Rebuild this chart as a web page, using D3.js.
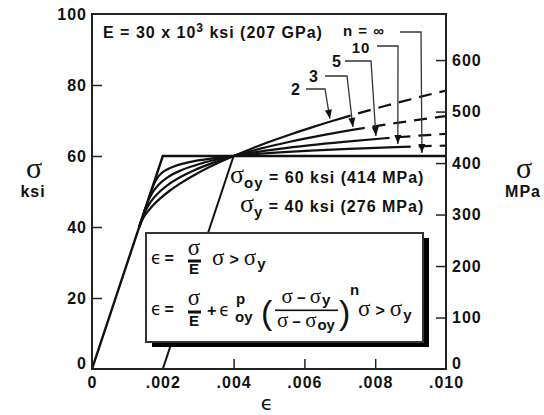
<!DOCTYPE html>
<html><head><meta charset="utf-8">
<script src="https://cdn.jsdelivr.net/npm/d3@7"></script>
<style>
body{margin:0;background:#fff}
svg text{font-family:"Liberation Sans",Arial,Helvetica,sans-serif;font-weight:bold;fill:#111}
.serif{font-family:"Liberation Serif","Times New Roman",serif;font-weight:normal}
.eps{font-family:"DejaVu Sans",sans-serif;font-weight:bold}
</style></head><body>
<svg id="c" width="544" height="415"></svg>
<script>
// ---------- data ----------
const strainTicks=[0,0.002,0.004,0.006,0.008,0.010];
const strainTickLabels=["0",".002",".004",".006",".008",".010"];
const ksiTicks=[0,20,40,60,80,100];
const mpaTicks=[0,100,200,300,400,500,600];
const ksiToMpa=6.895;
const nLabels=["2","3","5","10","n = \u221E"];
// [strain, stress ksi]
const curveN2=[[0.001333,40],[0.00142,42],[0.001547,44],[0.001713,46],[0.00192,48],[0.002167,50],[0.002453,52],[0.002958,55],[0.003553,58],[0.004,60],[0.004487,62],[0.005013,64],[0.00558,66],[0.006187,68],[0.006833,70],[0.00752,72],[0.008247,74],[0.009013,76],[0.00982,78],[0.010238,79]];
const curveN3=[[0.001333,40],[0.001402,42],[0.001483,44],[0.001587,46],[0.001728,48],[0.001917,50],[0.002165,52],[0.002486,54],[0.002891,56],[0.003391,58],[0.004,60],[0.004729,62],[0.005589,64],[0.006594,66],[0.007755,68],[0.009083,70],[0.009815,71],[0.010592,72]];
const curveN5=[[0.001333,40],[0.001468,44],[0.001538,46],[0.00162,48],[0.001729,50],[0.001889,52],[0.002136,54],[0.002522,56],[0.003114,58],[0.003515,59],[0.004,60],[0.004586,61],[0.005288,62],[0.006123,63],[0.00711,64],[0.00827,65],[0.009626,66],[0.011201,67]];
const curveN10=[[0.001333,40],[0.0016,48],[0.001669,50],[0.001745,52],[0.001857,54],[0.001946,55],[0.002082,56],[0.002294,57],[0.00263,58],[0.003164,59],[0.004,60],[0.004577,60.5],[0.005291,61],[0.006172,61.5],[0.007254,62],[0.008578,62.5],[0.010191,63]];
const curveInf=[[0,0],[0.002,60],[0.010,60]];
const offsetLine=[[0.002,0],[0.004,60]];
const solidUntil=[0.0073,0.0077,0.0084,0.0090,0.0100];
const arrowStrain=[0.00672,0.00737,0.00802,0.00864,0.00932];

// ---------- layout ----------
const L=92,R=446,T=14,B=369;
const svg=d3.select("#c");
const x=d3.scaleLinear().domain([0,0.010]).range([L,R]);
const y=d3.scaleLinear().domain([0,100]).range([B,T]);
const yR=d3.scaleLinear().domain([0,100*ksiToMpa]).range([B,T]);
const ink="#111";

const defs=svg.append("defs");
defs.append("clipPath").attr("id","plot").append("rect").attr("x",L).attr("y",T).attr("width",R-L).attr("height",B-T);

const line=d3.line().x(d=>x(d[0])).y(d=>y(d[1])).curve(d3.curveMonotoneX);
const lin=d3.line().x(d=>x(d[0])).y(d=>y(d[1]));

const curves=[curveN2,curveN3,curveN5,curveN10];
const gC=svg.append("g").attr("clip-path","url(#plot)");

gC.append("path").attr("d",lin(curveInf)).attr("fill","none").attr("stroke",ink).attr("stroke-width",2.4);
gC.append("path").attr("d",lin(offsetLine)).attr("fill","none").attr("stroke",ink).attr("stroke-width",2);

const P=21, dashLen=13;
curves.forEach((c,i)=>{
  const xb=x(solidUntil[i]);
  defs.append("clipPath").attr("id","s"+i).append("rect").attr("x",L).attr("y",T).attr("width",xb-L).attr("height",B-T);
  defs.append("clipPath").attr("id","d"+i).append("rect").attr("x",xb).attr("y",T).attr("width",R-xb).attr("height",B-T);
  gC.append("path").attr("d",line(c)).attr("fill","none").attr("stroke",ink).attr("stroke-width",2.2).attr("clip-path","url(#s"+i+")");
  const p=gC.append("path").attr("d",line(c)).attr("fill","none").attr("stroke",ink).attr("stroke-width",2.2).attr("clip-path","url(#d"+i+")");
  const node=p.node(),tot=node.getTotalLength();
  let lo=0,hi=tot;
  for(let k=0;k<40;k++){const m=(lo+hi)/2; if(node.getPointAtLength(m).x<xb) lo=m; else hi=m;}
  const off=((dashLen-lo)%P+P)%P;
  p.attr("stroke-dasharray",dashLen+" "+(P-dashLen)).attr("stroke-dashoffset",off);
});

// frame
svg.append("rect").attr("x",L).attr("y",T).attr("width",R-L).attr("height",B-T).attr("fill","none").attr("stroke","#222").attr("stroke-width",2);

// axes
function styleAxis(g){
  g.select(".domain").remove();
  g.selectAll(".tick line").attr("stroke","#222").attr("stroke-width",1.5);
  g.selectAll("text").attr("font-family",null).attr("fill",ink).style("font-size","16px").style("letter-spacing","1px");
}
svg.append("g").attr("transform",`translate(${L},0)`)
  .call(d3.axisLeft(y).tickValues(ksiTicks).tickSize(-10).tickPadding(5).tickFormat(d3.format("d")))
  .call(styleAxis)
  .call(g=>g.selectAll(".tick").filter(d=>d===0||d===100).select("line").remove())
  .call(g=>g.selectAll(".tick").filter(d=>d===0).select("text").attr("dy","-0.02em"));
svg.append("g").attr("transform",`translate(${R},0)`)
  .call(d3.axisRight(yR).tickValues(mpaTicks).tickSize(-10).tickPadding(6).tickFormat(d3.format("d")))
  .call(styleAxis)
  .call(g=>g.selectAll(".tick").filter(d=>d===0).select("line").remove())
  .call(g=>g.selectAll(".tick").filter(d=>d===0).select("text").attr("dy","-0.02em"));
svg.append("g").attr("transform",`translate(0,${B})`)
  .call(d3.axisBottom(x).tickValues(strainTicks).tickSize(-10).tickPadding(8).tickFormat((d,i)=>strainTickLabels[i]))
  .call(styleAxis)
  .call(g=>g.selectAll(".tick").filter(d=>d===0||d===0.002||d===0.010).select("line").remove());

// axis titles
svg.append("text").attr("class","eps").attr("x",267).attr("y",410).attr("text-anchor","middle").style("font-size","20px").style("font-weight","normal").text("\u03F5");
svg.append("text").attr("class","serif").attr("x",34).attr("y",178).attr("text-anchor","middle").style("font-size","30px").text("\u03C3");
svg.append("text").attr("x",33).attr("y",197).attr("text-anchor","middle").style("font-size","16px").style("letter-spacing","1px").text("ksi");
svg.append("text").attr("class","serif").attr("x",524).attr("y",178).attr("text-anchor","middle").style("font-size","30px").text("\u03C3");
svg.append("text").attr("x",523).attr("y",197).attr("text-anchor","middle").style("font-size","16px").style("letter-spacing","1px").text("MPa");

// annotations
svg.append("text").attr("x",103).attr("y",38).style("font-size","16px").style("letter-spacing","1px")
  .html('E = 30 x 10<tspan dy="-6" style="font-size:12px">3</tspan><tspan dy="6"> ksi (207 GPa)</tspan>');
svg.append("text").attr("x",230).attr("y",183).style("font-size","16px").style("letter-spacing","1px")
  .html('<tspan class="serif" style="font-size:26px;letter-spacing:0">\u03C3</tspan><tspan dy="5" style="font-size:15px">oy</tspan><tspan dy="-5"> = 60 ksi (414 MPa)</tspan>');
svg.append("text").attr("x",240).attr("y",212).style("font-size","16px").style("letter-spacing","1px")
  .html('<tspan class="serif" style="font-size:26px;letter-spacing:0">\u03C3</tspan><tspan dy="5" style="font-size:15px">y</tspan><tspan dy="-5"> = 40 ksi (276 MPa)</tspan>');

// n labels with leader arrows
const labelPos=[[296,89,306,325],[314,76,325,347],[337,61,345,371],[361,47,377,398],[364,30,400,421]];
const labelY=[89,76,61,46,32];
const allCurves=[curveN2,curveN3,curveN5,curveN10,curveInf];
function stressAt(c,e){
  for(let k=1;k<c.length;k++){ if(c[k][0]>=e){const a=c[k-1],b=c[k];return a[1]+(b[1]-a[1])*(e-a[0])/(b[0]-a[0]);} }
  return c[c.length-1][1];
}
nLabels.forEach((lab,i)=>{
  const [tx,ty,x0,x1]=labelPos[i];
  svg.append("text").attr("x",tx).attr("y",ty).attr("text-anchor","middle").attr("dominant-baseline","central").style("font-size",i>=3?"15px":"16px").style("letter-spacing","1px").text(lab);
  const ly=labelY[i];
  const tipX=x(arrowStrain[i]), tipY=y(stressAt(allCurves[i],arrowStrain[i]))-3;
  svg.append("path").attr("d",`M${x0},${ly}H${x1}L${tipX},${tipY}`).attr("fill","none").attr("stroke","#333").attr("stroke-width",1.3);
  const ang=Math.atan2(tipY-ly,tipX-x1), hl=9, hw=3.5;
  const bx=tipX-hl*Math.cos(ang), by=tipY-hl*Math.sin(ang);
  const px=-Math.sin(ang)*hw, py=Math.cos(ang)*hw;
  svg.append("path").attr("d",`M${tipX},${tipY}L${bx+px},${by+py}L${bx-px},${by-py}Z`).attr("fill",ink);
});

// formula box
const F=svg.append("g");
F.append("rect").attr("x",152).attr("y",238).attr("width",277).attr("height",109).attr("fill","#000");
F.append("rect").attr("x",146).attr("y",233).attr("width",277).attr("height",109).attr("fill","#fff").attr("stroke","#333").attr("stroke-width",2);
function t(xx,yy,html,size,anchor){
  return F.append("text").attr("x",xx).attr("y",yy).attr("text-anchor",anchor||"start").style("font-size",(size||16)+"px").html(html);
}
const sgS=(dx,fs)=>'<tspan class="serif"'+(dx?' dx="'+dx+'"':'')+' style="font-size:'+(fs||23)+'px">\u03C3</tspan>';
// line 1
t(151,264,'<tspan class="eps" style="font-size:17px;font-weight:normal">\u03F5</tspan><tspan dx="3">=</tspan>');
t(194,255,sgS(0),16,"middle");
F.append("rect").attr("x",188).attr("y",259.5).attr("width",13).attr("height",3).attr("fill",ink);
t(194,274,'E',15,"middle");
t(212,265,sgS(0)+'<tspan dx="5">&gt;</tspan>'+sgS(5)+'<tspan dy="4" dx="1" style="font-size:15px">y</tspan>');
// line 2
t(151,315,'<tspan class="eps" style="font-size:17px;font-weight:normal">\u03F5</tspan><tspan dx="3">=</tspan>');
t(194,305,sgS(0),16,"middle");
F.append("rect").attr("x",188).attr("y",310.5).attr("width",13).attr("height",3).attr("fill",ink);
t(194,326,'E',15,"middle");
t(207,316,'+<tspan class="eps" dx="3" style="font-size:17px;font-weight:normal">\u03F5</tspan>');
t(236,304,'p',15);
t(235,322,'oy',15);
F.append("text").attr("x",261).attr("y",324).style("font-size","34px").style("font-weight","normal").text("(");
t(306,303,sgS(0,21)+'<tspan dx="4">\u2212</tspan>'+sgS(4,21)+'<tspan dy="2" dx="1" style="font-size:15px">y</tspan>',15,"middle");
F.append("rect").attr("x",275).attr("y",309.5).attr("width",63).attr("height",1.6).attr("fill",ink);
t(306,327,sgS(0,21)+'<tspan dx="4">\u2212</tspan>'+sgS(4,21)+'<tspan dy="3" dx="1" style="font-size:15px">oy</tspan>',15,"middle");
F.append("text").attr("x",339).attr("y",324).style("font-size","34px").style("font-weight","normal").text(")");
t(350,295,'n',15);
t(358,316,sgS(0)+'<tspan dx="5">&gt;</tspan>'+sgS(5)+'<tspan dy="4" dx="1" style="font-size:15px">y</tspan>');
</script>
</body></html>
